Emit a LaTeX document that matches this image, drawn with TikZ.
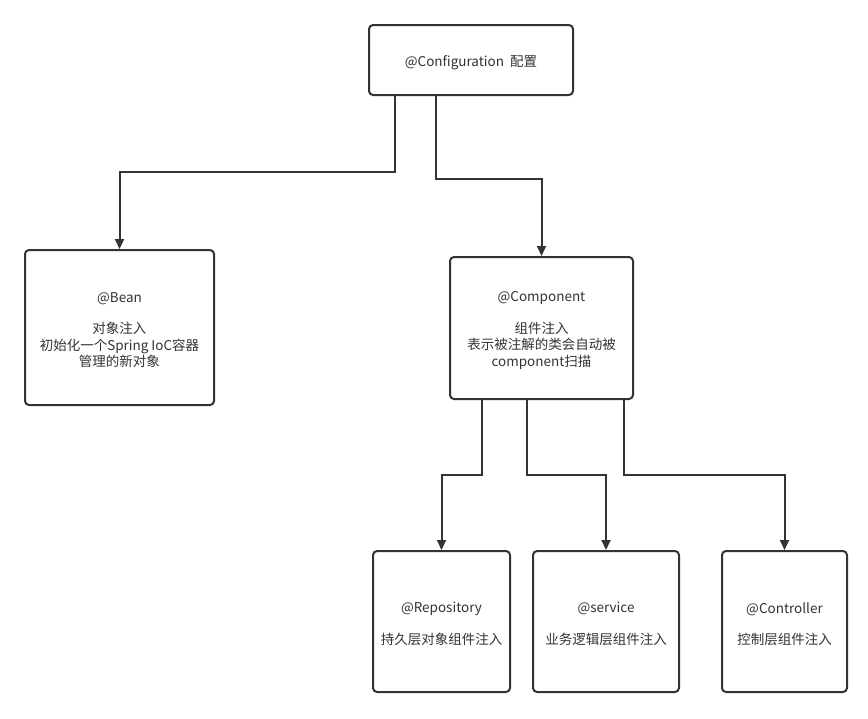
\documentclass[tikz,border=0pt]{standalone}
\usepackage{fontspec}
\setmainfont{Noto Sans CJK SC}
\usetikzlibrary{arrows.meta}
\definecolor{ink}{HTML}{333333}
\tikzset{
  box/.style={draw=ink, line width=2pt, rounded corners=4pt, fill=white,
    inner sep=0pt, label={[txt]center:#1}},
  txt/.style={align=center, text=ink, inner sep=0pt, yshift=-2.5pt,
    font=\fontsize{13.5}{16.5}\selectfont},
  arr/.style={draw=ink, line width=2pt, -{Triangle[length=10pt,width=9pt]}}
}
\begin{document}
\begin{tikzpicture}[x=1pt,y=-1pt]
\useasboundingbox (0,0) rectangle (868,718);
\node[box={@Configuration\ \ 配置}, minimum width=204pt, minimum height=70pt] (cfg) at (471,60) {};
\node[box={@Bean\\[15pt]对象注入\\初始化一个Spring IoC容器\\管理的新对象}, minimum width=189pt, minimum height=155pt] (bean) at (119.5,327.5) {};
\node[box={@Component\\[15pt]组件注入\\表示被注解的类会自动被\\component扫描}, minimum width=183pt, minimum height=142pt] (comp) at (541.5,328) {};
\node[box={@Repository\\[15pt]持久层对象组件注入}, minimum width=137pt, minimum height=141pt] (repo) at (441.5,621.5) {};
\node[box={@service\\[15pt]业务逻辑层组件注入}, minimum width=146pt, minimum height=141pt] (svc) at (606,621.5) {};
\node[box={@Controller\\[15pt]控制层组件注入}, minimum width=125pt, minimum height=141pt] (ctl) at (784.5,621.5) {};
\draw[arr] ([xshift=-76pt]cfg.south) -- ++(0,76) -| (bean.north);
\draw[arr] ([xshift=-35pt]cfg.south) -- ++(0,83) -| (comp.north);
\draw[arr] ([xshift=-59.5pt]comp.south) -- ++(0,75) -| (repo.north);
\draw[arr] ([xshift=-14.5pt]comp.south) -- ++(0,75) -| (svc.north);
\draw[arr] ([xshift=82.5pt]comp.south) -- ++(0,75) -| (ctl.north);
\end{tikzpicture}
\end{document}
